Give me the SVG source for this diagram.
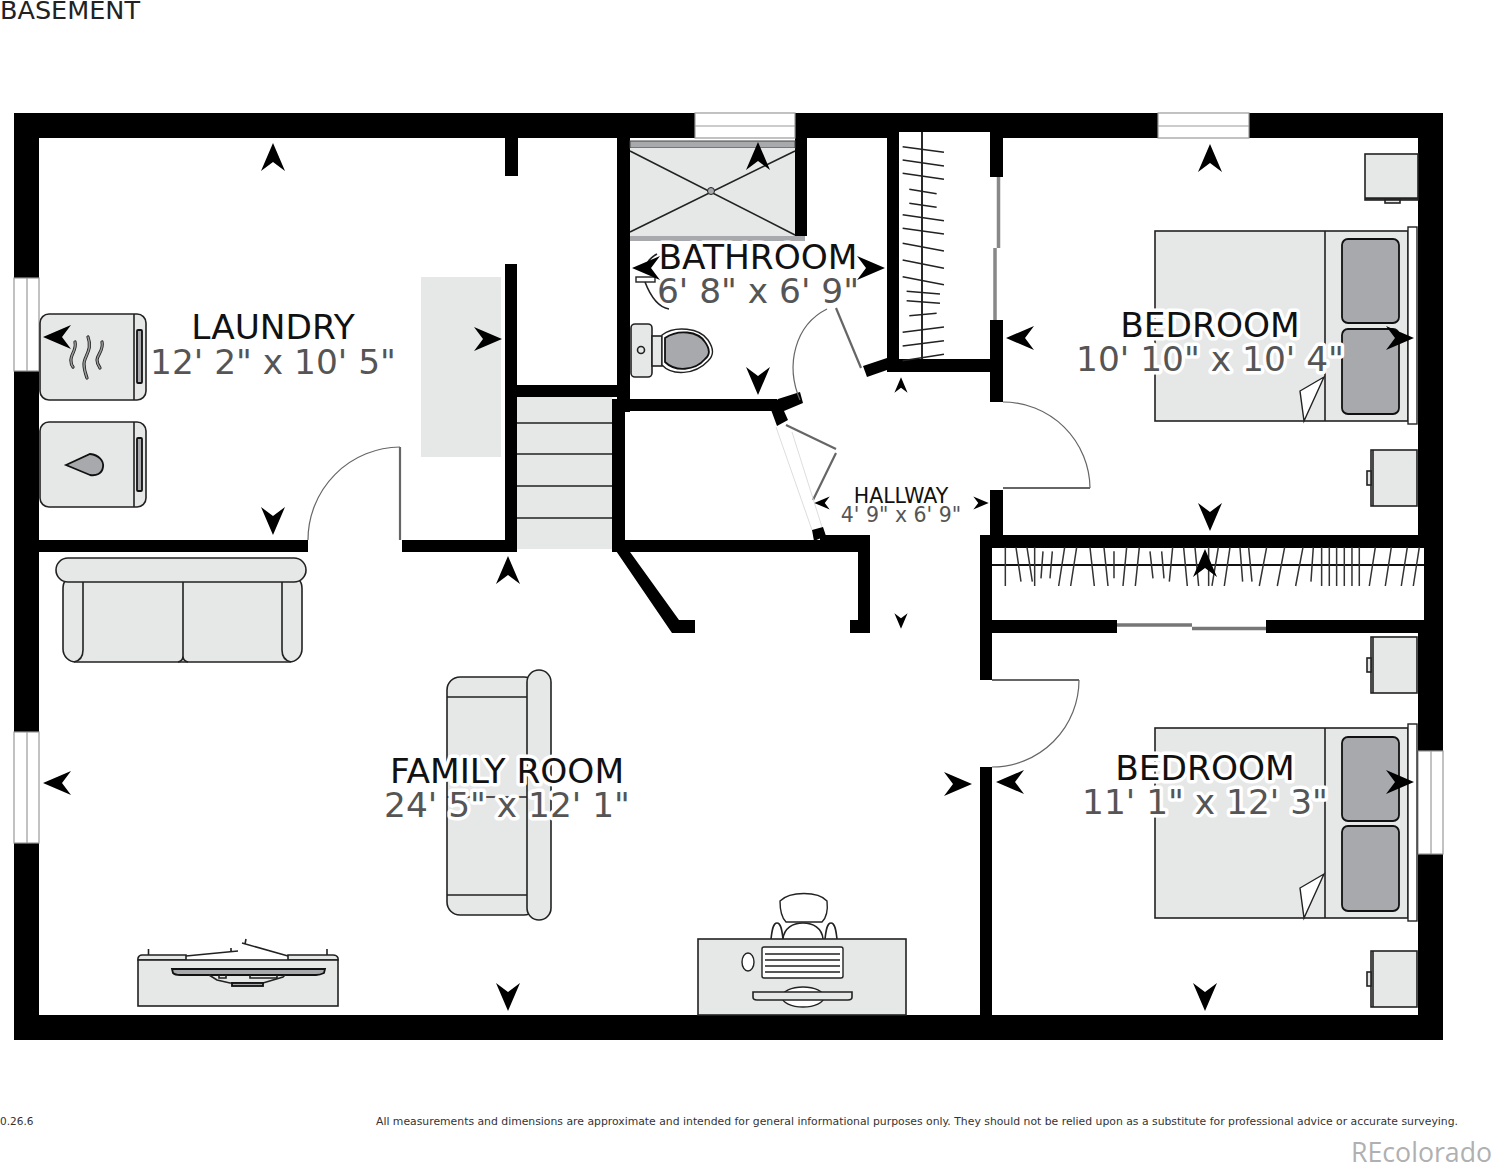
<svg xmlns="http://www.w3.org/2000/svg" width="1496" height="1163" viewBox="0 0 1496 1163">
<style>
text{font-family:"DejaVu Sans",sans-serif}
.w{fill:#000}
.f{fill:#e6e7e7;stroke:#222;stroke-width:1.6}
.p{fill:#a7a9ac;stroke:#111;stroke-width:1.8}
.l{fill:none;stroke:#222;stroke-width:1.6}
.b{fill:#fff;stroke:#222;stroke-width:1.4}
.win{fill:#fff;stroke:#999;stroke-width:1.2}
.arc{fill:none;stroke:#666;stroke-width:1.2}
.leaf{fill:none;stroke:#666;stroke-width:2.2}
.name{font-size:34.4px;fill:#111;text-anchor:middle;paint-order:stroke;stroke:#fff;stroke-width:7px;stroke-linejoin:round}
.dim{font-size:34.4px;fill:#555;text-anchor:middle;paint-order:stroke;stroke:#fff;stroke-width:7px;stroke-linejoin:round}
.name2{font-size:20.5px;fill:#111;text-anchor:middle}
.dim2{font-size:20.5px;fill:#555;text-anchor:middle}
</style>
<defs>
<path id="a" d="M0-14 12 14 0 5-12 14Z" fill="#000"/>
</defs>
<rect width="1496" height="1163" fill="#fff"/>
<g id="furniture-floor">
<rect x="421" y="277" width="80" height="180" fill="#e6e7e7"/>
</g>
<g id="walls">
<rect class="w" x="14" y="113" width="1429" height="25"/>
<rect class="w" x="14" y="113" width="25" height="927"/>
<rect class="w" x="1418" y="113" width="25" height="927"/>
<rect class="w" x="14" y="1015" width="1429" height="25"/>
<rect class="w" x="505" y="138" width="13" height="38"/>
<rect class="w" x="505" y="264" width="12" height="285"/>
<rect class="w" x="505" y="385" width="112" height="12"/>
<rect class="w" x="39" y="540" width="269" height="12"/>
<rect class="w" x="402" y="540" width="115" height="12"/>
<rect class="w" x="617" y="130" width="13" height="282"/>
<rect class="w" x="612" y="399" width="13" height="150"/>
<rect class="w" x="625" y="399" width="152" height="12"/>
<rect class="w" x="795" y="130" width="12" height="106"/>
<rect x="899" y="132" width="91" height="6" fill="#fff"/>
<rect class="w" x="887" y="125" width="12" height="247"/>
<rect class="w" x="990" y="125" width="13" height="52"/>
<rect class="w" x="990" y="320" width="13" height="82"/>
<rect class="w" x="990" y="490" width="13" height="50"/>
<rect class="w" x="887" y="359" width="110" height="13"/>
<polygon class="w" points="863,366 887,358 887,370 867,377"/>
<polygon class="w" points="778,399 800,392 803,403 784,411 788,420 777,426 770,407"/>
<polygon class="w" points="812,530 823,527 826,536 814,541"/>
<rect class="w" x="612" y="540" width="258" height="12"/>
<rect class="w" x="820" y="535" width="50" height="10"/>
<rect class="w" x="858" y="535" width="12" height="98"/>
<rect class="w" x="850" y="620" width="20" height="13"/>
<polygon class="w" points="612,545 625,545 679,620 695,620 695,633 672,633"/>
<rect class="w" x="980" y="535" width="444" height="13"/>
<rect class="w" x="980" y="535" width="12" height="145"/>
<rect class="w" x="980" y="767" width="12" height="250"/>
<rect class="w" x="992" y="620" width="125" height="13"/>
<rect class="w" x="1266" y="620" width="158" height="13"/>
<rect x="1418" y="548" width="6" height="72" fill="#fff"/>
</g>
<g id="windows">
<rect class="win" x="695" y="113" width="100" height="25"/><line class="win" x1="695" y1="126" x2="795" y2="126"/>
<rect class="win" x="1158" y="113" width="91" height="25"/><line class="win" x1="1158" y1="126" x2="1249" y2="126"/>
<rect class="win" x="14" y="278" width="25" height="93"/><line class="win" x1="27" y1="278" x2="27" y2="371"/>
<rect class="win" x="14" y="732" width="25" height="111"/><line class="win" x1="27" y1="732" x2="27" y2="843"/>
<rect class="win" x="1418" y="751" width="25" height="103"/><line class="win" x1="1431" y1="751" x2="1431" y2="854"/>
</g>
<g id="doors">
<path class="arc" d="M308 540A93 93 0 0 1 400 447"/><path class="leaf" d="M400 447V540"/>
<path class="arc" d="M827 309C795 325 785 365 800 400"/><path class="leaf" d="M836 308 861 368"/>
<path class="arc" d="M1003 402A87 87 0 0 1 1090 488"/><path class="leaf" d="M1003 488H1090"/>
<path class="arc" d="M1079 680A87 87 0 0 1 992 767"/><path class="leaf" d="M992 680H1079"/>
<path class="leaf" d="M786 425 836 449M836 453 813 500"/>
<path d="M776 427 812 530M792 432 822 527" fill="none" stroke="#ddd" stroke-width="1"/>
<path d="M998.500 177V248M995 248V320" fill="none" stroke="#888" stroke-width="3.500"/>
<path d="M1117 625H1192M1192 628.500H1266" fill="none" stroke="#777" stroke-width="3.500"/>
</g>
<g id="stairs">
<rect x="517" y="397" width="95" height="152" fill="#e6e7e7"/>
<path d="M517 423H612M517 454H612M517 486H612M517 518H612" class="l" stroke-width="1"/>
</g>
<g id="shower">
<rect x="630" y="141" width="165" height="7" fill="#a7a9ac" stroke="#444"/>
<rect x="630" y="148" width="165" height="88" fill="#e6e7e7"/>
<path class="l" d="M630 151 795 235M630 232 795 151"/>
<circle cx="711" cy="191" r="3.500" fill="#a7a9ac" stroke="#222"/>
<rect x="630" y="236" width="175" height="5" fill="#a7a9ac"/>
</g>
<g id="sink">
<rect x="636" y="277" width="19" height="5" class="b"/>
<path class="l" d="M657 254C648 259 645 265 648 270M645 282C650 295 657 307 669 309"/>
</g>
<g id="toilet">
<rect class="f" x="631" y="324" width="21" height="53" rx="4"/>
<circle class="f" cx="641" cy="350" r="3.500"/>
<rect class="f" x="652" y="336" width="10" height="30"/>
<path class="b" d="M662 335C675 325 700 328 708 340 714 349 714 355 708 361 695 375 672 376 662 365Z"/>
<path class="p" d="M665 338C678 329 698 331 705 342 710 349 710 355 705 359 695 371 675 372 665 362Z" stroke-width="1"/>
</g>
<g id="closet-1">
<line x1="922" y1="132" x2="922" y2="359" stroke="#111" stroke-width="1.800"/>
<path transform="translate(600 100) scale(.3333)" fill="none" stroke="#222" stroke-width="4.500" d="M908 140 1032 157M908 180 1032 198M908 220 1032 238M928 268 1010 281M928 310 1010 322M908 344 1032 362M908 385 1032 402M908 430 1032 453M908 480 1032 505M908 530 1032 554M920 574 1020 582M920 602 1020 610M928 647 1010 640M908 697 1032 681M908 738 1032 722M908 782 1032 763"/>
</g>
<g id="closet-2">
<line x1="992" y1="565" x2="1424" y2="565" stroke="#111" stroke-width="1.800"/>
<path transform="translate(980 530) scale(.3333)" fill="none" stroke="#333" stroke-width="4.500" d="M76 52V168M108 52 123 155M141 52 157 155M164 52V168M189 64 183 145M217 64 210 145M254 52 236 168M290 52 272 168M330 52 343 168M372 52 384 168M402 64V145M440 52 429 168M478 52 466 168M510 64 519 145M545 64 552 145M578 52 568 155M611 52 622 168M645 52 656 168M686 52V168M715 52 696 168M750 52 733 168M780 52 788 155M806 52 816 155M860 52 838 168M914 52 892 168M969 52 947 168M1000 52 993 155M1025 52V168M1048 52V168M1070 52V168M1093 52V168M1116 52V168M1138 52V168M1186 52 1168 168M1234 52 1216 168M1282 52 1264 168M1318 52 1300 168"/>
</g>
<g id="dryer">
<rect class="f" x="40" y="314" width="106" height="86" rx="9"/>
<path class="l" d="M134 314V400"/>
<rect class="p" x="137" y="330" width="5" height="53" rx="1" stroke-width="1"/>
<path fill="none" stroke="#222" stroke-width="3.200" stroke-linecap="round" d="M75 342C77 350 70 355 71 361 71 364 72 366 73 367M88 337C93 350 84 356 84 364 84 370 86 375 87 378M102 342C104 350 97 355 97 360 97 363 98 365 100 368"/>
<path fill="none" stroke="#999" stroke-width="1.500" stroke-linecap="round" d="M75 342C77 350 70 355 71 361 71 364 72 366 73 367M88 337C93 350 84 356 84 364 84 370 86 375 87 378M102 342C104 350 97 355 97 360 97 363 98 365 100 368"/>
</g>
<g id="washer">
<rect class="f" x="40" y="422" width="106" height="85" rx="9"/>
<path class="l" d="M134 422V507"/>
<rect class="p" x="137" y="438" width="5" height="53" rx="1" stroke-width="1"/>
<path class="p" stroke-width="1.200" d="M66 465 90 454C99 455 104 461 103 467 102 474 96 476 90 475Z"/>
</g>
<g id="sofa-1">
<rect class="f" x="63" y="575" width="239" height="87" rx="13"/>
<path class="l" d="M83 582V650Q83 660 74 662M282 582V650Q282 660 291 662M183 582V656Q183 661 178 662M183 656Q183 661 188 662"/>
<rect class="f" x="56" y="558" width="250" height="24" rx="12"/>
</g>
<g id="sofa-2">
<rect class="f" x="447" y="677" width="90" height="238" rx="13"/>
<path class="l" d="M447 697H527M447 895H527M447 797H527"/>
<rect class="f" x="527" y="670" width="24" height="250" rx="12"/>
</g>
<g id="tv">
<path class="f" d="M138 960V958Q139 955 142 955H186V960ZM288 955H333Q337 955 338 958V960H288Z"/>
<rect class="f" x="138" y="960" width="200" height="46"/>
<path class="l" d="M148.500 955V949M186 956 238 951M231 948V952M288 956 242 943M246 939 245 944M327 955V949"/>
<path class="p" d="M172 969H325L324 973Q320 975 316 975H180Q175 975 173 973Z" stroke-width="1"/>
<path class="l" d="M209 975 217 980 230 983H263L283 977 285 975" stroke-width="1"/>
<path class="l" d="M219 975V978H226V975M250 975V978H277V975" stroke-width="1"/>
<rect class="p" x="232" y="983" width="31" height="3" stroke-width=".8"/>
</g>
<g id="desk">
<path class="l" d="M771 939C772 930 773 923 777 923 781 923 782 930 783 939M837 939C836 930 835 923 831 923 827 923 826 930 825 939"/>
<path class="l" d="M783 939C784 928 793 923 803 923 813 923 822 928 823 939"/>
<path class="b" d="M780 901C790 891 818 891 827 901 828 910 826 918 822 922H786C782 918 780 910 780 901Z"/>
<rect class="f" x="698" y="939" width="208" height="76"/>
<ellipse class="b" cx="748" cy="962" rx="6" ry="9"/>
<rect class="b" x="762" y="947" width="81" height="31" rx="2"/>
<path class="l" d="M765 954H840M765 960H840M765 966H840M765 972H840" stroke-width="1.800"/>
<ellipse class="b" cx="803" cy="997" rx="21" ry="10"/>
<path class="f" d="M753 992H852V997Q852 1000 848 1000H757Q753 1000 753 997Z"/>
</g>
<g id="bed-1">
<rect class="f" x="1155" y="231" width="253" height="190"/>
<path class="l" d="M1325 231V421"/>
<rect class="b" x="1408" y="227" width="9" height="197"/>
<rect class="p" x="1342" y="239" width="57" height="84" rx="6"/>
<rect class="p" x="1342" y="329" width="57" height="85" rx="6"/>
<polygon class="b" points="1324,377 1300,391 1304,421"/>
</g>
<g id="bed-2">
<rect class="f" x="1155" y="728" width="253" height="190"/>
<path class="l" d="M1325 728V918"/>
<rect class="b" x="1408" y="724" width="9" height="197"/>
<rect class="p" x="1342" y="737" width="57" height="84" rx="6"/>
<rect class="p" x="1342" y="826" width="57" height="85" rx="6"/>
<polygon class="b" points="1324,874 1300,888 1304,918"/>
</g>
<g id="nightstands">
<rect class="f" x="1365" y="154" width="53" height="46"/>
<path d="M1365 198.500H1418" stroke="#222" stroke-width="2.500"/>
<rect class="f" x="1385" y="200" width="15" height="3"/>
<rect class="f" x="1371" y="450" width="46" height="56"/><rect class="f" x="1367" y="471" width="4" height="14"/><path class="l" d="M1373 450V506"/>
<rect class="f" x="1371" y="637" width="46" height="56"/><rect class="f" x="1367" y="658" width="4" height="14"/><path class="l" d="M1373 637V693"/>
<rect class="f" x="1371" y="951" width="46" height="56"/><rect class="f" x="1367" y="972" width="4" height="14"/><path class="l" d="M1373 951V1007"/>
</g>
<g id="laundry">
<text class="name" x="273" y="339">LAUNDRY</text>
<text class="dim" x="273" y="374">12' 2" x 10' 5"</text>
<use href="#a" transform="translate(273 157)"/>
<use href="#a" transform="translate(57 337) rotate(-90)"/>
<use href="#a" transform="translate(488 339) rotate(90)"/>
<use href="#a" transform="translate(273 521) rotate(180)"/>
</g>
<g id="bathroom">
<text class="name" x="758" y="269">BATHROOM</text>
<text class="dim" x="758" y="303">6' 8" x 6' 9"</text>
<use href="#a" transform="translate(758 156)"/>
<use href="#a" transform="translate(646 268) rotate(-90)"/>
<use href="#a" transform="translate(871 268) rotate(90)"/>
<use href="#a" transform="translate(758 381) rotate(180)"/>
</g>
<g id="hallway">
<text class="name2" x="901" y="503">HALLWAY</text>
<text class="dim2" x="901" y="522">4' 9" x 6' 9"</text>
<use href="#a" transform="translate(901 385) scale(.55)"/>
<use href="#a" transform="translate(822 503) rotate(-90) scale(.55)"/>
<use href="#a" transform="translate(981 503) rotate(90) scale(.55)"/>
<use href="#a" transform="translate(901 621) rotate(180) scale(.55)"/>
</g>
<g id="bedroom-1">
<text class="name" x="1210" y="337">BEDROOM</text>
<text class="dim" x="1210" y="371">10' 10" x 10' 4"</text>
<use href="#a" transform="translate(1210 158)"/>
<use href="#a" transform="translate(1020 338) rotate(-90)"/>
<use href="#a" transform="translate(1400 338) rotate(90)"/>
<use href="#a" transform="translate(1210 517) rotate(180)"/>
</g>
<g id="family-room">
<text class="name" x="507" y="783">FAMILY ROOM</text>
<text class="dim" x="507" y="817">24' 5" x 12' 1"</text>
<use href="#a" transform="translate(508 570)"/>
<use href="#a" transform="translate(57 783) rotate(-90)"/>
<use href="#a" transform="translate(958 784) rotate(90)"/>
<use href="#a" transform="translate(508 997) rotate(180)"/>
</g>
<g id="bedroom-2">
<text class="name" x="1205" y="780">BEDROOM</text>
<text class="dim" x="1205" y="814">11' 1" x 12' 3"</text>
<use href="#a" transform="translate(1205 563)"/>
<use href="#a" transform="translate(1010 782) rotate(-90)"/>
<use href="#a" transform="translate(1400 782) rotate(90)"/>
<use href="#a" transform="translate(1205 997) rotate(180)"/>
</g>
<g id="captions">
<text x="0" y="19" font-size="25.500" fill="#222">BASEMENT</text>
<text x="0" y="1125" font-size="10.500" fill="#333">0.26.6</text>
<text x="376" y="1125" font-size="11" fill="#333" textLength="1082" lengthAdjust="spacingAndGlyphs">All measurements and dimensions are approximate and intended for general informational purposes only. They should not be relied upon as a substitute for professional advice or accurate surveying.</text>
<text x="1351" y="1162" font-size="26.700" fill="#b0b0b0" style="font-family:'Open Sans',sans-serif">REcolorado</text>
</g>
</svg>
